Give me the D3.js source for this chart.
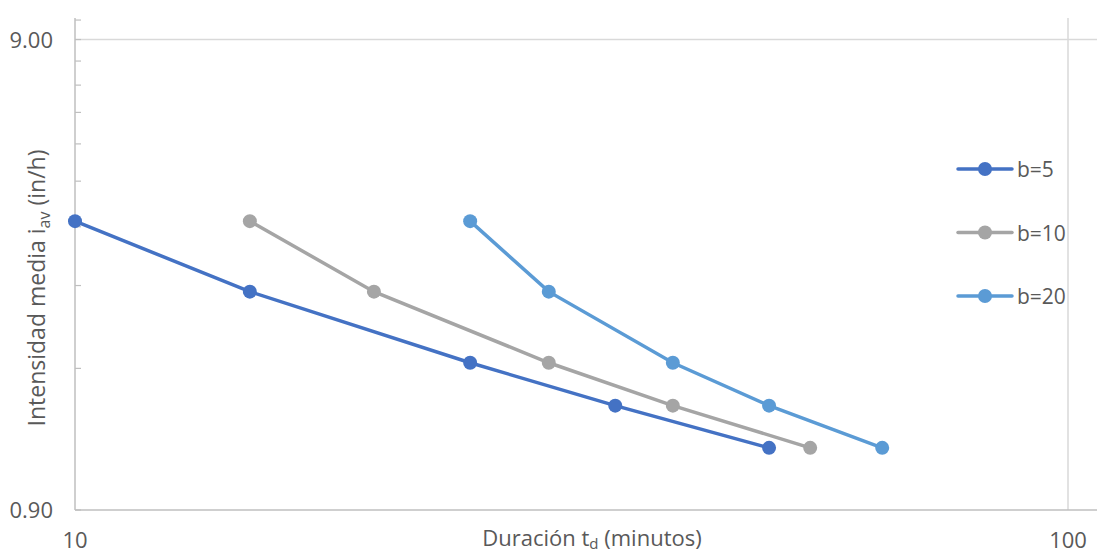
<!DOCTYPE html>
<html>
<head>
<meta charset="utf-8">
<script src="https://cdn.jsdelivr.net/npm/d3@7"></script>
<style>
  body { margin: 0; background: #fff; }
  text { font-family: "Open Sans", sans-serif; fill: #595959; }
</style>
</head>
<body>
<svg id="chart"></svg>
<script>
const width = 1097;
const height = 554;

// intensity values shared by every curve (in/h)
var intensity = [3.70, 2.62, 1.85, 1.50, 1.22];
// duration + b (minutes) per curve
var durB5 = [10, 15, 25, 35, 50];
var durB10 = [15, 20, 30, 40, 55];
var durB20 = [25, 30, 40, 50, 65];
var seriesNames = ["b=5", "b=10", "b=20"];
var colors = ["#4472C4", "#A5A5A5", "#5B9BD5"];
var yTicks = [0.9, 9];
var xTicks = [10, 100];

var series = [durB5, durB10, durB20].map(function (d, i) {
  return { name: seriesNames[i], color: colors[i], pts: d.map(function (t, j) { return [t, intensity[j]]; }) };
});

var svg = d3.select('#chart')
  .attr('width', width)
  .attr('height', height);

var x = d3.scaleLog().domain([10, 100]).range([75, 1068]);
var y = d3.scaleLog().domain([0.9, 10]).range([510, 18]);

// gridlines
svg.append('line')
  .attr('x1', 75).attr('x2', width)
  .attr('y1', y(9)).attr('y2', y(9))
  .attr('stroke', '#d9d9d9').attr('stroke-width', 1.5);
svg.append('line')
  .attr('x1', x(100)).attr('x2', x(100))
  .attr('y1', y(10)).attr('y2', y(0.9))
  .attr('stroke', '#d9d9d9').attr('stroke-width', 1.5);

// minor ticks on y axis (0.9 * k)
var minor = d3.range(1, 12).map(function (k) { return 0.9 * k; }).filter(function (v) { return v <= 10; });
svg.selectAll('.minor').data(minor).enter().append('line')
  .attr('x1', 75).attr('x2', 81)
  .attr('y1', function (d) { return y(d); })
  .attr('y2', function (d) { return y(d); })
  .attr('stroke', '#bfbfbf').attr('stroke-width', 1.2);

// axis lines
svg.append('line')
  .attr('x1', 75).attr('x2', 75)
  .attr('y1', y(10)).attr('y2', y(0.9))
  .attr('stroke', '#bfbfbf').attr('stroke-width', 1.5);
svg.append('line')
  .attr('x1', 75).attr('x2', width)
  .attr('y1', y(0.9)).attr('y2', y(0.9))
  .attr('stroke', '#bfbfbf').attr('stroke-width', 1.5);

// tick labels
svg.selectAll('.ylab').data(yTicks).enter().append('text')
  .attr('x', 53)
  .attr('y', function (d) { return y(d) + 8; })
  .attr('text-anchor', 'end')
  .style('font-size', '22px')
  .text(function (d) { return d3.format('.2f')(d); });

svg.selectAll('.xlab').data(xTicks).enter().append('text')
  .attr('x', function (d) { return x(d); })
  .attr('y', 548)
  .attr('text-anchor', 'middle')
  .style('font-size', '22px')
  .text(function (d) { return d; });

// axis titles
var xt = svg.append('text')
  .attr('x', 592).attr('y', 546)
  .attr('text-anchor', 'middle')
  .style('font-size', '22px');
xt.append('tspan').text('Duración t');
xt.append('tspan').attr('dy', 3).style('font-size', '15px').text('d');
xt.append('tspan').attr('dy', -3).text(' (minutos)');

var yt = svg.append('text')
  .attr('transform', 'translate(45,288) rotate(-90)')
  .attr('text-anchor', 'middle')
  .style('font-size', '23px');
yt.append('tspan').text('Intensidad media i');
yt.append('tspan').attr('dy', 5).style('font-size', '16px').text('av');
yt.append('tspan').attr('dy', -5).text(' (in/h)');

// lines + markers
var line = d3.line()
  .x(function (d) { return x(d[0]); })
  .y(function (d) { return y(d[1]); });

series.forEach(function (s) {
  svg.append('path')
    .attr('d', line(s.pts))
    .attr('fill', 'none')
    .attr('stroke', s.color)
    .attr('stroke-width', 3.5)
    .attr('stroke-linecap', 'round');
  svg.selectAll(null).data(s.pts).enter().append('circle')
    .attr('cx', function (d) { return x(d[0]); })
    .attr('cy', function (d) { return y(d[1]); })
    .attr('r', 7)
    .attr('fill', s.color);
});

// legend
var legend = svg.selectAll('.legend').data(series).enter().append('g')
  .attr('transform', function (d, i) { return 'translate(958,' + (169 + i * 63.5) + ')'; });
legend.append('line')
  .attr('x1', 0).attr('x2', 54)
  .attr('stroke', function (d) { return d.color; })
  .attr('stroke-width', 3.5)
  .attr('stroke-linecap', 'round');
legend.append('circle')
  .attr('cx', 27).attr('r', 7)
  .attr('fill', function (d) { return d.color; });
legend.append('text')
  .attr('x', 59).attr('y', 8)
  .style('font-size', '21px')
  .text(function (d) { return d.name; });
</script>
</body>
</html>
